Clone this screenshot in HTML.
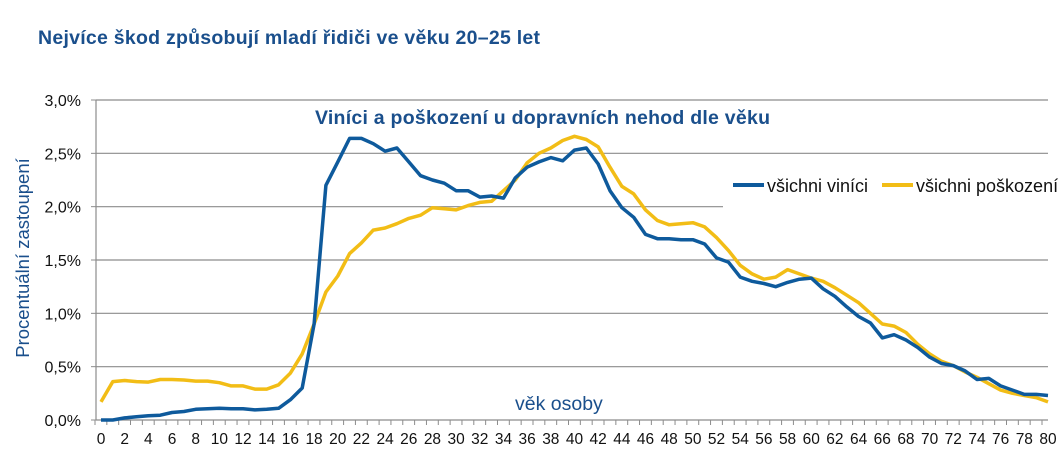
<!DOCTYPE html>
<html><head><meta charset="utf-8"><style>
body{margin:0;background:#fff;width:1064px;height:462px;overflow:hidden;font-family:"Liberation Sans",sans-serif}
</style></head><body>
<svg width="1064" height="462" xmlns="http://www.w3.org/2000/svg" font-family="Liberation Sans, sans-serif">
<text x="38" y="44" font-size="19.5" font-weight="bold" fill="#1a4f8c" textLength="502">Nejvíce škod způsobují mladí řidiči ve věku 20–25 let</text>
<g id="grid"></g><g id="axes"></g><g id="series"></g>
<text x="315" y="124" font-size="19.5" font-weight="bold" fill="#1a4f8c" textLength="455">Viníci a poškození u dopravních nehod dle věku</text>
<text x="515" y="410" font-size="19.5" fill="#1a4f8c">věk osoby</text>
<text transform="translate(29,258) rotate(-90)" text-anchor="middle" font-size="18.5" fill="#1a4f8c">Procentuální zastoupení</text>
<g>
<line x1="733" y1="185" x2="764" y2="185" stroke="#0e5a9c" stroke-width="4"/>
<text x="767" y="192" font-size="18" fill="#111">všichni viníci</text>
<line x1="882" y1="185" x2="913" y2="185" stroke="#f2bd16" stroke-width="4"/>
<text x="916" y="192" font-size="18" fill="#111">všichni poškození</text>
</g>
</svg>
<script>
const ages=[];for(let i=0;i<=80;i++)ages.push(i);
const vinici=[0.0,0.0,0.02,0.03,0.04,0.045,0.07,0.08,0.1,0.105,0.11,0.105,0.105,0.095,0.1,0.11,0.19,0.3,0.9,2.2,2.42,2.64,2.64,2.59,2.52,2.55,2.42,2.29,2.25,2.22,2.15,2.15,2.09,2.1,2.08,2.27,2.37,2.42,2.46,2.43,2.53,2.55,2.4,2.15,1.99,1.9,1.74,1.7,1.7,1.69,1.69,1.65,1.52,1.48,1.34,1.3,1.28,1.25,1.29,1.32,1.33,1.23,1.16,1.06,0.97,0.91,0.77,0.8,0.75,0.68,0.59,0.53,0.51,0.46,0.38,0.39,0.32,0.28,0.24,0.24,0.23];
const poskozeni=[0.17,0.36,0.37,0.36,0.355,0.38,0.38,0.375,0.365,0.365,0.35,0.32,0.32,0.29,0.29,0.33,0.44,0.62,0.9,1.2,1.35,1.56,1.66,1.78,1.8,1.84,1.89,1.92,1.99,1.98,1.97,2.01,2.04,2.05,2.15,2.25,2.41,2.5,2.55,2.62,2.66,2.63,2.56,2.37,2.19,2.12,1.97,1.87,1.83,1.84,1.85,1.81,1.71,1.59,1.45,1.37,1.32,1.34,1.41,1.37,1.33,1.3,1.24,1.17,1.1,1.0,0.9,0.88,0.82,0.71,0.62,0.55,0.51,0.45,0.4,0.34,0.28,0.25,0.23,0.21,0.17];
const yTicks=[0,0.5,1,1.5,2,2.5,3];
const yTickLabels=["0,0%","0,5%","1,0%","1,5%","2,0%","2,5%","3,0%"];
const NS="http://www.w3.org/2000/svg";
const X0=101,X1=1048,Y0=420,Y1=100;
const x=a=>X0+(a-0)*(X1-X0)/80;
const y=v=>Y0-v*(Y0-Y1)/3;
function mk(tag,attrs,parent){const e=document.createElementNS(NS,tag);for(const k in attrs)e.setAttribute(k,attrs[k]);parent.appendChild(e);return e;}
const grid=document.getElementById('grid'),axes=document.getElementById('axes'),ser=document.getElementById('series');
yTicks.forEach((t,i)=>{
  const xe=(t===2)?723:X1;
  if(t>0){const l=mk('line',{x1:X0-5,x2:xe,y1:y(t),y2:y(t),stroke:'#8c8c8c','stroke-width':1.2},grid);
  
  }
  const tk=mk('line',{x1:X0-10,x2:X0-5,y1:y(t),y2:y(t),stroke:'#8c8c8c'},axes);
  
  
  const tx=mk('text',{x:X0-20,y:y(t)+6,'text-anchor':'end','font-size':16,fill:'#111'},axes);
  tx.textContent=yTickLabels[i];
  
  
});
const ya=mk('line',{x1:X0-5,x2:X0-5,y1:Y1,y2:Y0,stroke:'#8c8c8c','stroke-width':1.2},axes);


const xa=mk('line',{x1:X0-5,x2:X1,y1:Y0,y2:Y0,stroke:'#8c8c8c','stroke-width':1.2},axes);


ages.forEach(a=>{
  const tk=mk('line',{x1:x(a)-6,x2:x(a)-6,y1:Y0,y2:Y0+5,stroke:'#8c8c8c'},axes);
  
  
  if(a%2===0){const tx=mk('text',{x:x(a),y:Y0+24,'text-anchor':'middle','font-size':15.5,fill:'#111'},axes);
  tx.textContent=a;
  
  }
});
function line(vals,color,name){
  const d=vals.map((v,i)=>(i?'L':'M')+x(ages[i]).toFixed(1)+','+y(v).toFixed(1)).join('');
  const p=mk('path',{d:d,fill:'none',stroke:color,'stroke-width':3.5,'stroke-linejoin':'round'},ser);
  
  
}
line(poskozeni,'#f2bd16','series-poskozeni');
line(vinici,'#0e5a9c','series-vinici');
</script>
</body></html>
